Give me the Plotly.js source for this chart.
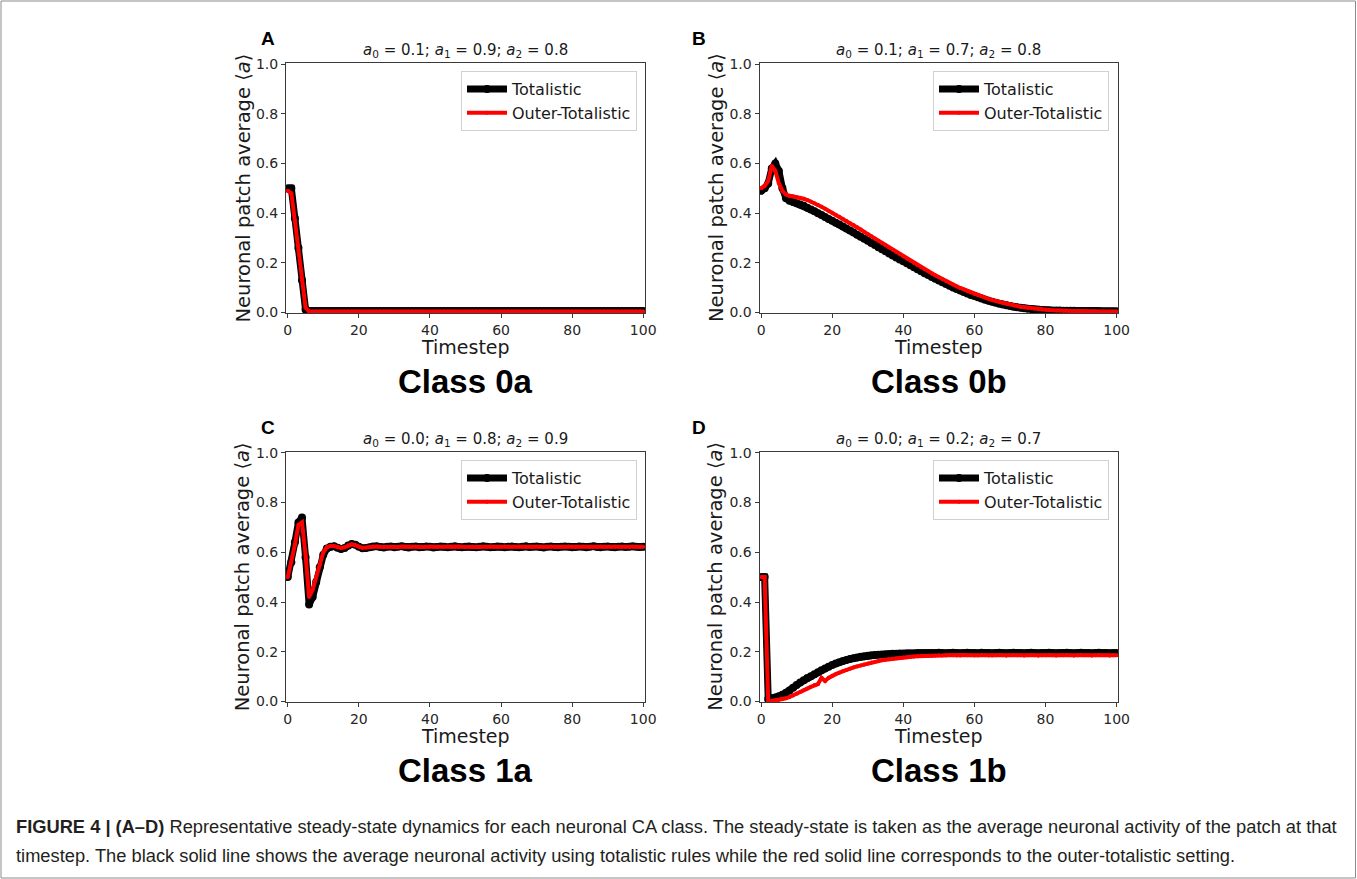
<!DOCTYPE html>
<html>
<head>
<meta charset="utf-8">
<script src="https://cdn.plot.ly/plotly-3.0.1.min.js"></script>
<style>html,body{margin:0;padding:0;background:#fff;}#chart{width:1357px;height:879px;}</style>
</head>
<body>
<div id="chart"></div>
<script>
// ---------- DATA ----------
const panelLabels = ["A", "B", "C", "D"];
const classLabels = ["Class 0a", "Class 0b", "Class 1a", "Class 1b"];
const paramTitles = [
  "<i>a</i><sub>0</sub> = 0.1; <i>a</i><sub>1</sub> = 0.9; <i>a</i><sub>2</sub> = 0.8",
  "<i>a</i><sub>0</sub> = 0.1; <i>a</i><sub>1</sub> = 0.7; <i>a</i><sub>2</sub> = 0.8",
  "<i>a</i><sub>0</sub> = 0.0; <i>a</i><sub>1</sub> = 0.8; <i>a</i><sub>2</sub> = 0.9",
  "<i>a</i><sub>0</sub> = 0.0; <i>a</i><sub>1</sub> = 0.2; <i>a</i><sub>2</sub> = 0.7"
];
const seriesNames = ["Totalistic", "Outer-Totalistic"];
const xTicks = [0, 20, 40, 60, 80, 100];
const yTicks = [0.0, 0.2, 0.4, 0.6, 0.8, 1.0];
const timesteps = Array.from({length: 101}, (_, i) => i);

const A_totalistic = [
  0.50,0.50,0.38,0.26,0.13,0.012,0.006,0.006,0.006,0.006,
  0.006,0.006,0.006,0.006,0.006,0.006,0.006,0.006,0.006,0.006,
  0.006,0.006,0.006,0.006,0.006,0.006,0.006,0.006,0.006,0.006,
  0.006,0.006,0.006,0.006,0.006,0.006,0.006,0.006,0.006,0.006,
  0.006,0.006,0.006,0.006,0.006,0.006,0.006,0.006,0.006,0.006,
  0.006,0.006,0.006,0.006,0.006,0.006,0.006,0.006,0.006,0.006,
  0.006,0.006,0.006,0.006,0.006,0.006,0.006,0.006,0.006,0.006,
  0.006,0.006,0.006,0.006,0.006,0.006,0.006,0.006,0.006,0.006,
  0.006,0.006,0.006,0.006,0.006,0.006,0.006,0.006,0.006,0.006,
  0.006,0.006,0.006,0.006,0.006,0.006,0.006,0.006,0.006,0.006,
  0.006
];
const A_outer = [
  0.49,0.48,0.37,0.25,0.13,0.02,0.004,0.004,0.004,0.004,
  0.004,0.004,0.004,0.004,0.004,0.004,0.004,0.004,0.004,0.004,
  0.004,0.004,0.004,0.004,0.004,0.004,0.004,0.004,0.004,0.004,
  0.004,0.004,0.004,0.004,0.004,0.004,0.004,0.004,0.004,0.004,
  0.004,0.004,0.004,0.004,0.004,0.004,0.004,0.004,0.004,0.004,
  0.004,0.004,0.004,0.004,0.004,0.004,0.004,0.004,0.004,0.004,
  0.004,0.004,0.004,0.004,0.004,0.004,0.004,0.004,0.004,0.004,
  0.004,0.004,0.004,0.004,0.004,0.004,0.004,0.004,0.004,0.004,
  0.004,0.004,0.004,0.004,0.004,0.004,0.004,0.004,0.004,0.004,
  0.004,0.004,0.004,0.004,0.004,0.004,0.004,0.004,0.004,0.004,
  0.004
];
const B_totalistic = [
  0.49,0.50,0.52,0.58,0.60,0.57,0.50,0.46,0.45,0.445,
  0.440,0.435,0.430,0.422,0.415,0.408,0.400,0.393,0.385,0.377,
  0.370,0.362,0.354,0.346,0.338,0.330,0.322,0.313,0.305,0.297,
  0.289,0.280,0.272,0.263,0.255,0.247,0.238,0.230,0.222,0.214,
  0.206,0.198,0.190,0.182,0.174,0.166,0.158,0.151,0.143,0.136,
  0.129,0.122,0.115,0.108,0.101,0.095,0.089,0.083,0.077,0.071,
  0.066,0.061,0.056,0.051,0.047,0.043,0.039,0.035,0.032,0.029,
  0.026,0.023,0.021,0.019,0.017,0.015,0.014,0.012,0.011,0.010,
  0.009,0.009,0.008,0.008,0.008,0.007,0.007,0.007,0.007,0.006,
  0.006,0.006,0.006,0.006,0.006,0.006,0.005,0.005,0.005,0.005,
  0.005
];
const B_outer = [
  0.50,0.51,0.53,0.59,0.57,0.52,0.49,0.475,0.47,0.468,
  0.465,0.462,0.458,0.453,0.447,0.440,0.433,0.426,0.418,0.410,
  0.402,0.394,0.386,0.378,0.369,0.360,0.352,0.343,0.334,0.325,
  0.316,0.307,0.298,0.289,0.280,0.271,0.262,0.253,0.244,0.235,
  0.226,0.217,0.208,0.199,0.190,0.182,0.174,0.166,0.158,0.150,
  0.142,0.134,0.127,0.120,0.113,0.106,0.099,0.093,0.087,0.081,
  0.075,0.070,0.065,0.060,0.055,0.050,0.046,0.042,0.038,0.035,
  0.032,0.029,0.026,0.023,0.021,0.019,0.017,0.015,0.013,0.012,
  0.011,0.010,0.009,0.008,0.008,0.007,0.007,0.006,0.006,0.006,
  0.005,0.005,0.005,0.005,0.005,0.004,0.004,0.004,0.004,0.004,
  0.004
];
const C_totalistic = [
  0.50,0.56,0.64,0.72,0.74,0.58,0.39,0.42,0.48,0.54,
  0.590,0.615,0.622,0.624,0.618,0.613,0.617,0.627,0.633,0.630,
  0.622,0.616,0.617,0.620,0.623,0.624,0.621,0.619,0.622,0.623,
  0.620,0.622,0.624,0.621,0.619,0.622,0.623,0.620,0.621,0.623,
  0.622,0.619,0.621,0.623,0.622,0.620,0.622,0.624,0.621,0.620,
  0.622,0.623,0.621,0.620,0.622,0.624,0.622,0.620,0.621,0.623,
  0.622,0.620,0.622,0.623,0.621,0.620,0.622,0.624,0.621,0.622,
  0.623,0.621,0.619,0.622,0.623,0.621,0.620,0.622,0.623,0.622,
  0.620,0.621,0.623,0.622,0.620,0.622,0.624,0.621,0.620,0.622,
  0.623,0.621,0.620,0.622,0.623,0.621,0.622,0.624,0.622,0.621,
  0.622
];
const C_outer = [
  0.50,0.56,0.63,0.71,0.72,0.59,0.42,0.45,0.50,0.55,
  0.600,0.620,0.625,0.625,0.620,0.617,0.620,0.628,0.632,0.628,
  0.622,0.618,0.619,0.621,0.623,0.623,0.622,0.621,0.622,0.623,
  0.622,0.621,0.623,0.622,0.621,0.622,0.623,0.622,0.621,0.622,
  0.623,0.622,0.621,0.622,0.622,0.623,0.621,0.622,0.623,0.622,
  0.621,0.622,0.623,0.622,0.621,0.622,0.622,0.623,0.622,0.621,
  0.622,0.623,0.622,0.621,0.622,0.623,0.622,0.621,0.622,0.622,
  0.623,0.622,0.621,0.622,0.623,0.622,0.621,0.622,0.622,0.623,
  0.622,0.621,0.622,0.623,0.622,0.621,0.622,0.622,0.623,0.622,
  0.621,0.622,0.623,0.622,0.621,0.622,0.622,0.623,0.622,0.621,
  0.622
];
const D_totalistic = [
  0.50,0.50,0.010,0.012,0.016,0.021,0.027,0.035,0.044,0.055,
  0.066,0.076,0.085,0.094,0.102,0.110,0.118,0.126,0.133,0.140,
  0.147,0.153,0.158,0.163,0.167,0.171,0.174,0.177,0.180,0.182,
  0.184,0.186,0.187,0.188,0.189,0.190,0.191,0.192,0.192,0.193,
  0.193,0.194,0.194,0.194,0.195,0.195,0.195,0.195,0.195,0.195,
  0.196,0.195,0.194,0.195,0.196,0.195,0.194,0.195,0.196,0.195,
  0.195,0.194,0.196,0.195,0.195,0.194,0.195,0.196,0.195,0.194,
  0.195,0.196,0.195,0.195,0.194,0.195,0.196,0.195,0.194,0.195,
  0.195,0.196,0.195,0.194,0.195,0.195,0.196,0.195,0.194,0.195,
  0.196,0.195,0.195,0.194,0.195,0.196,0.195,0.195,0.194,0.195,
  0.195
];
const D_outer = [
  0.50,0.50,0.000,0.002,0.004,0.006,0.009,0.013,0.018,0.024,
  0.031,0.038,0.045,0.052,0.059,0.066,0.070,0.095,0.082,0.095,
  0.104,0.110,0.116,0.122,0.127,0.132,0.137,0.141,0.145,0.149,
  0.153,0.157,0.160,0.163,0.166,0.168,0.170,0.172,0.174,0.176,
  0.177,0.178,0.180,0.181,0.182,0.183,0.183,0.184,0.184,0.185,
  0.186,0.185,0.186,0.187,0.186,0.185,0.186,0.187,0.186,0.186,
  0.185,0.186,0.187,0.186,0.185,0.186,0.186,0.187,0.186,0.185,
  0.186,0.187,0.186,0.186,0.185,0.186,0.187,0.186,0.185,0.186,
  0.186,0.187,0.186,0.185,0.186,0.186,0.187,0.186,0.185,0.186,
  0.187,0.186,0.186,0.185,0.186,0.187,0.186,0.186,0.185,0.186,
  0.186
];
const panelTotalistic = [A_totalistic, B_totalistic, C_totalistic, D_totalistic];
const panelOuter = [A_outer, B_outer, C_outer, D_outer];

const captionLine1 = "<b>FIGURE 4 | (A–D)</b> Representative steady-state dynamics for each neuronal CA class. The steady-state is taken as the average neuronal activity of the patch at that";
const captionLine2 = "timestep. The black solid line shows the average neuronal activity using totalistic rules while the red solid line corresponds to the outer-totalistic setting.";
const yTitle = "Neuronal patch average ⟨<i>a</i>⟩";
const xTitle = "Timestep";

// ---------- LAYOUT ----------
const W = 1357, H = 879;
const px = v => v / W;
const py = v => 1 - v / H;
// plot boxes in pixels [left, right, top, bottom]
const boxes = [
  [286, 645, 63, 313],
  [759.5, 1118, 63, 313],
  [286, 645, 451.5, 702],
  [759.5, 1118, 451.5, 702]
];
const xRanges = [[-0.5, 100.5], [-0.45, 100.4], [-0.5, 100.5], [-0.45, 100.4]];
const legendBox = [[637, 71], [1109, 71], [637, 460], [1109, 460]];

const tickFont = {family: "DejaVu Sans", size: 14, color: "#262626"};
const layout = {
  width: W, height: H,
  margin: {l: 0, r: 0, t: 0, b: 0},
  paper_bgcolor: "#ffffff", plot_bgcolor: "#ffffff",
  showlegend: true,
  annotations: [], shapes: []
};
const data = [];
const fontDV = "DejaVu Sans";

boxes.forEach((b, i) => {
  const n = i === 0 ? "" : String(i + 1);
  layout["xaxis" + n] = {
    domain: [px(b[0]), px(b[1])], anchor: "y" + n, range: xRanges[i],
    showline: true, mirror: true, linecolor: "#3a3a3a", linewidth: 1,
    ticks: "outside", ticklen: 4, tickcolor: "#3a3a3a", tickwidth: 1,
    tickvals: xTicks, ticktext: xTicks.map(String), tickfont: tickFont,
    showgrid: false, zeroline: false, fixedrange: true
  };
  layout["yaxis" + n] = {
    domain: [py(b[3]), py(b[2])], anchor: "x" + n, range: [-0.002, 1.005],
    showline: true, mirror: true, linecolor: "#3a3a3a", linewidth: 1,
    ticks: "outside", ticklen: 4, tickcolor: "#3a3a3a", tickwidth: 1,
    tickvals: yTicks, ticktext: yTicks.map(v => v.toFixed(1)), tickfont: tickFont,
    showgrid: false, zeroline: false, fixedrange: true
  };
  const lg = i === 0 ? "legend" : "legend" + (i + 1);
  layout[lg] = {
    x: px(legendBox[i][0]), y: py(legendBox[i][1]), xanchor: "right", yanchor: "top",
    bgcolor: "rgba(255,255,255,0.85)", bordercolor: "#d0d0d0", borderwidth: 1,
    font: {family: fontDV, size: 16, color: "#1a1a1a"},
    tracegroupgap: 0, itemwidth: 40
  };
  data.push({
    x: timesteps, y: panelTotalistic[i], type: "scatter", mode: "lines+markers",
    name: seriesNames[0], xaxis: "x" + n, yaxis: "y" + n, legend: lg,
    line: {color: "#000000", width: 7}, marker: {color: "#000000", size: 8},
    cliponaxis: true
  });
  data.push({
    x: timesteps, y: panelOuter[i], type: "scatter", mode: "lines+markers",
    name: seriesNames[1], xaxis: "x" + n, yaxis: "y" + n, legend: lg,
    line: {color: "#ff0000", width: 4}, marker: {color: "#ff0000", size: 4},
    cliponaxis: true
  });
  const cx = (b[0] + b[1]) / 2, cy = (b[2] + b[3]) / 2;
  layout.annotations.push({
    xref: "paper", yref: "paper", x: px(cx), y: py(b[2] - 12), xanchor: "center", yanchor: "middle",
    text: paramTitles[i], showarrow: false, font: {family: fontDV, size: 15, color: "#1a1a1a"}
  });
  layout.annotations.push({
    xref: "paper", yref: "paper", x: px(b[0] - 43.5), y: py(cy), xanchor: "center", yanchor: "middle",
    text: yTitle, textangle: -90, showarrow: false, font: {family: fontDV, size: 19.5, color: "#1a1a1a"}
  });
  layout.annotations.push({
    xref: "paper", yref: "paper", x: px(cx), y: py(b[3] + 34), xanchor: "center", yanchor: "middle",
    text: xTitle, showarrow: false, font: {family: fontDV, size: 19, color: "#1a1a1a"}
  });
  layout.annotations.push({
    xref: "paper", yref: "paper", x: px(cx), y: py(b[3] + 68), xanchor: "center", yanchor: "middle",
    text: "<b>" + classLabels[i] + "</b>", showarrow: false,
    font: {family: "Liberation Sans, Arial", size: 33, color: "#000000"}
  });
  layout.annotations.push({
    xref: "paper", yref: "paper", x: px(i % 2 === 0 ? 268 : 699), y: py(b[2] - 24), xanchor: "center", yanchor: "middle",
    text: "<b>" + panelLabels[i] + "</b>", showarrow: false,
    font: {family: "Liberation Sans, Arial", size: 19, color: "#000000"}
  });
});

layout.annotations.push({
  xref: "paper", yref: "paper", x: px(14), y: py(826), xanchor: "left", yanchor: "middle",
  text: captionLine1, showarrow: false, font: {family: "Liberation Sans, Arial", size: 18.3, color: "#231f20"}
});
layout.annotations.push({
  xref: "paper", yref: "paper", x: px(14), y: py(855), xanchor: "left", yanchor: "middle",
  text: captionLine2, showarrow: false, font: {family: "Liberation Sans, Arial", size: 18.3, color: "#231f20"}
});
layout.shapes.push({
  type: "rect", xref: "paper", yref: "paper", x0: px(1), x1: px(1355.5), y0: py(878), y1: py(1),
  line: {color: "#8a8a8a", width: 1}, fillcolor: "rgba(0,0,0,0)"
});

Plotly.newPlot("chart", data, layout, {displayModeBar: false, staticPlot: true});
</script>
</body>
</html>
